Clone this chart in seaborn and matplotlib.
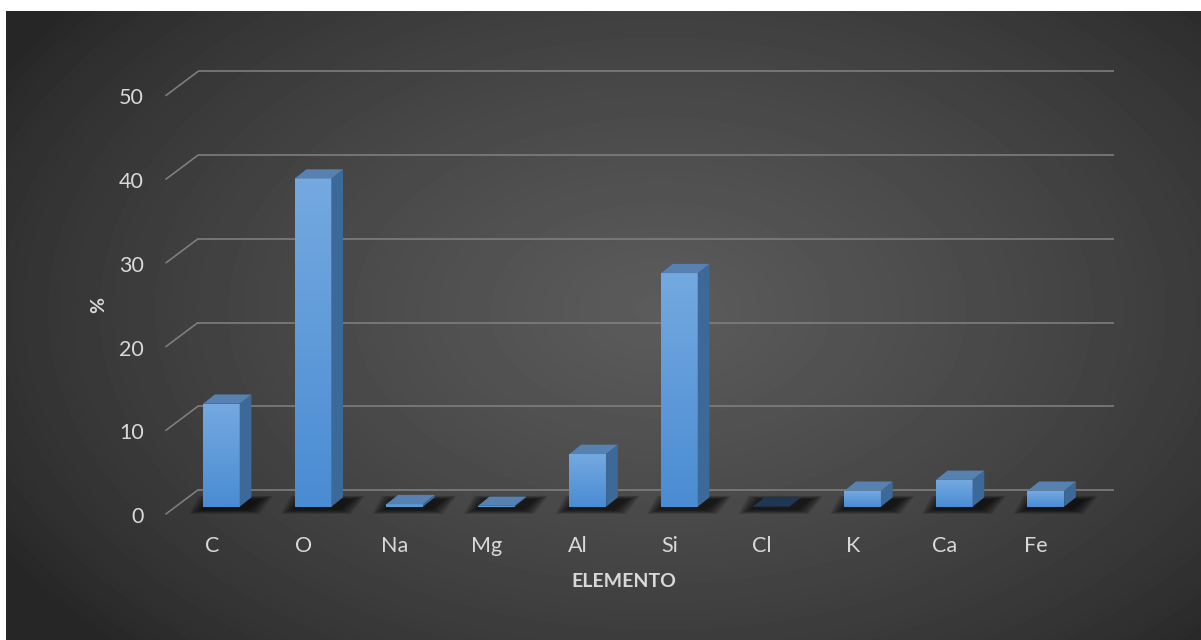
import numpy as np
import pandas as pd
import seaborn as sns
import matplotlib.pyplot as plt
from matplotlib.transforms import ScaledTranslation, IdentityTransform
from matplotlib.colors import LinearSegmentedColormap
from matplotlib.patches import Polygon
from matplotlib.lines import Line2D

elements = ['C', 'O', 'Na', 'Mg', 'Al', 'Si', 'Cl', 'K', 'Ca', 'Fe']
percent = [12.3, 39.2, 0.3, 0.1, 6.3, 27.9, 0.0, 1.9, 3.2, 1.9]
y_ticks = [0, 10, 20, 30, 40, 50]

df = pd.DataFrame({'elemento': elements, 'pct': percent})

sns.set_theme(style='white')
plt.rcParams['font.family'] = ['Lato', 'DejaVu Sans']

W, H = 1201, 640
fig = plt.figure(figsize=(W / 100, H / 100), dpi=100)
fig.patch.set_facecolor('white')

# dark radial background (Excel style)
bg = fig.add_axes([6 / W, 0, (W - 6) / W, (H - 11) / H])
xx, yy = np.meshgrid(np.arange(6, W), np.arange(11, H))
r = np.sqrt(((xx - 660) / 760) ** 2 + ((yy - 310) / 480) ** 2)
shade = (38 + 54 * np.clip(1 - r, 0, 1) ** 0.75) / 255
bg.imshow(shade, cmap='gray', vmin=0, vmax=1, aspect='auto', interpolation='bilinear')
bg.axis('off')

# main axes = plane of the bar front faces
px = 8.37  # pixels per unit
left, right, top, bottom = 175.6, 1091.6, 40, 560
zero_y = 506.7
ax = fig.add_axes([left / W, (H - bottom) / H, (right - left) / W, (bottom - top) / H])
ax.patch.set_alpha(0)
ymin = -(bottom - zero_y) / px
ymax = ymin + (bottom - top) / px

sns.barplot(data=df, x='elemento', y='pct', color='#5B9BD5', width=0.4,
            saturation=1, edgecolor='none', zorder=3, ax=ax)
ax.set_xlim(-0.5, len(elements) - 0.5)
ax.set_ylim(ymin, ymax)
ax.axis('off')


def shift(dx, dy):
    return ax.transData + ScaledTranslation(dx / 100, dy / 100, fig.dpi_scale_trans)


back = np.array([22.3, 16.7])
front = np.array([-9.7, -7.3])
depth = np.array([11.7, 9.3])
grid_col = '#808080'
txt_col = '#D9D9D9'

# gridlines on the back wall + diagonal on the side wall
for v in y_ticks:
    ax.plot([-0.5, len(elements) - 0.5], [v, v], transform=shift(*back),
            color=grid_col, lw=1.15, zorder=1, solid_capstyle='butt', clip_on=False)
    p = ax.transData.transform((-0.5, v))
    ax.add_line(Line2D([p[0] + front[0], p[0] + back[0]], [p[1] + front[1], p[1] + back[1]],
                       transform=IdentityTransform(), color=grid_col, lw=1.15, zorder=1,
                       clip_on=False))
    ax.text(-0.5, v, str(v), transform=shift(-31.6, -16.3), ha='right', va='baseline',
            fontsize=15.5, color=txt_col)

for i, name in enumerate(elements):
    ax.text(i, 0, name, transform=shift(-9.7, -45.8), ha='center', va='baseline',
            fontsize=15.5, color=txt_col)

ax.text((len(elements) - 1) / 2, 0, 'ELEMENTO', transform=shift(-9.6, -79.9),
        ha='center', va='baseline', fontsize=14, fontweight='bold', color=txt_col)
fig.text(98.3 / W, 1 - 305 / H, '%', rotation=90, ha='center', va='center',
         fontsize=14, fontweight='bold', color=txt_col)

# 3D look: soft floor shadows, gradient front, top and side faces
grad = LinearSegmentedColormap.from_list('bar', ['#4A8CD3', '#74A9E0'])
bars = list(ax.patches)
for b in bars:
    x0 = b.get_x()
    x1 = x0 + b.get_width()
    h = b.get_height()
    a0, a1, t0, t1 = ax.transData.transform([(x0, 0), (x1, 0), (x0, h), (x1, h)])

    for k in range(8):
        m = 1.7 * k
        poly = [a0 + (-m - 2, -0.35 * m - 3), a1 + (m + 8, -0.35 * m - 3),
                a1 + depth + (m + 10, 0.3 * m - 2), a0 + depth + (-m - 4, 0.3 * m - 2)]
        ax.add_patch(Polygon(poly, closed=True, transform=IdentityTransform(),
                             facecolor='black', edgecolor='none', alpha=0.12, zorder=2,
                             clip_on=False))

    if h > 0.5:
        ax.imshow(np.linspace(0, 1, 64).reshape(-1, 1), cmap=grad, aspect='auto',
                  extent=[x0, x1, 0, h], origin='lower', zorder=3.5)

    side = [a1, t1, t1 + depth, a1 + depth]
    ax.add_patch(Polygon(side, closed=True, transform=IdentityTransform(),
                         facecolor='#3C6998', edgecolor='none', zorder=4, clip_on=False))
    top_col = '#5781B1' if h > 0 else '#1E3753'
    top_face = [t0, t1, t1 + depth, t0 + depth]
    ax.add_patch(Polygon(top_face, closed=True, transform=IdentityTransform(),
                         facecolor=top_col, edgecolor='none', zorder=4, clip_on=False))

ax.set_xlim(-0.5, len(elements) - 0.5)
ax.set_ylim(ymin, ymax)

plt.savefig('out.png', dpi=100, facecolor=fig.get_facecolor())
